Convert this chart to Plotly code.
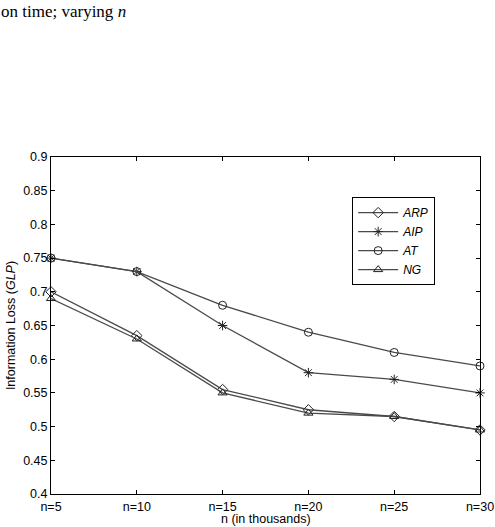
import plotly.graph_objects as go

categories = ["n=5", "n=10", "n=15", "n=20", "n=25", "n=30"]
x_vals = [5, 10, 15, 20, 25, 30]
arp = [0.70, 0.635, 0.555, 0.525, 0.515, 0.495]
aip = [0.75, 0.73, 0.65, 0.58, 0.57, 0.55]
at = [0.75, 0.73, 0.68, 0.64, 0.61, 0.59]
ng = [0.69, 0.63, 0.55, 0.52, 0.515, 0.495]
y_ticks = [0.4, 0.45, 0.5, 0.55, 0.6, 0.65, 0.7, 0.75, 0.8, 0.85, 0.9]
y_tick_labels = ["0.4", "0.45", "0.5", "0.55", "0.6", "0.65", "0.7", "0.75", "0.8", "0.85", "0.9"]

series = [
    ("ARP", arp, "diamond-open"),
    ("AIP", aip, "asterisk-open"),
    ("AT", at, "circle-open"),
    ("NG", ng, "triangle-up-open"),
]

fig = go.Figure()
for name, vals, sym in series:
    fig.add_trace(go.Scatter(
        x=x_vals, y=vals, mode="lines+markers", name="<i>%s</i>" % name,
        line=dict(color="#4a4a4a", width=1.3),
        marker=dict(symbol=sym, size=8, color="#222222", line=dict(width=1, color="#222222")),
        cliponaxis=False,
    ))

font = "Liberation Sans, Arial, sans-serif"
fs = 12.5
fig.update_layout(
    width=495, height=527,
    margin=dict(l=51, r=15, t=157, b=33),
    paper_bgcolor="white", plot_bgcolor="white",
    font=dict(family=font, size=fs, color="black"),
    showlegend=True,
    legend=dict(
        x=0.702, y=0.881, xanchor="left", yanchor="top",
        bordercolor="black", borderwidth=1, bgcolor="white",
        font=dict(family=font, size=12, color="black"),
        tracegroupgap=0, itemwidth=40,
    ),
    xaxis=dict(
        range=[5, 30], tickmode="array", tickvals=x_vals, ticktext=categories,
        ticks="inside", ticklen=4, tickcolor="black", showline=True, linecolor="black",
        linewidth=1, mirror="ticks", showgrid=False, zeroline=False, automargin=False,
        tickfont=dict(family=font, size=fs), ticklabelstandoff=1,
    ),
    yaxis=dict(
        range=[0.4, 0.9], tickmode="array", tickvals=y_ticks, ticktext=y_tick_labels,
        ticks="inside", ticklen=4, tickcolor="black", showline=True, linecolor="black",
        linewidth=1, mirror="ticks", showgrid=False, zeroline=False, automargin=False,
        tickfont=dict(family=font, size=fs),
        title=dict(text="Information Loss (<i>GLP</i>)", font=dict(family=font, size=fs), standoff=4),
    ),
    annotations=[
        dict(
            text="on time; varying <i>n</i>", xref="paper", yref="paper",
            x=-0.121, y=1.466, xanchor="left", yanchor="top", showarrow=False,
            font=dict(family="Liberation Serif, Times New Roman, serif", size=17, color="black"),
        ),
        dict(
            text="n (in thousands)", xref="paper", yref="paper",
            x=0.5, y=-0.073, xanchor="center", yanchor="middle", showarrow=False,
            font=dict(family=font, size=fs, color="black"),
        ),
    ],
)

fig.write_html("out.html")
